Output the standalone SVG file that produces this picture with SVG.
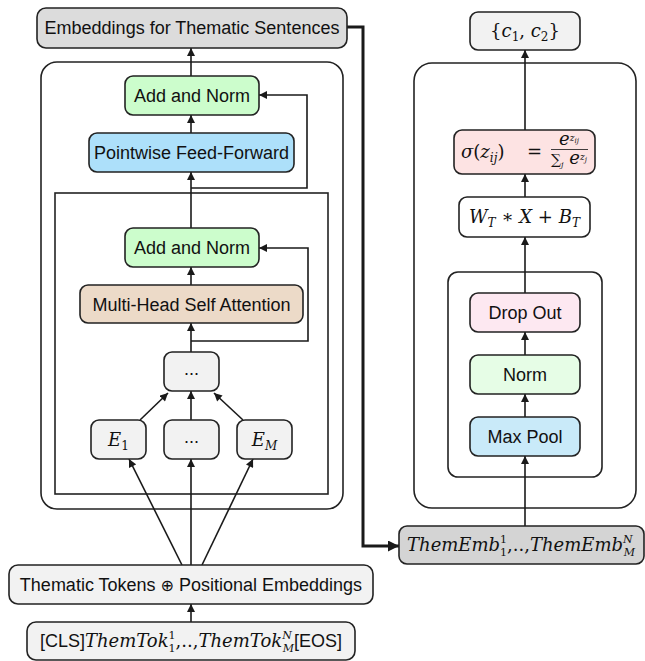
<svg xmlns="http://www.w3.org/2000/svg" width="645" height="661" viewBox="0 0 645 661">
<defs>
<marker id="ah" viewBox="0 0 10 10" refX="10" refY="5" markerUnits="userSpaceOnUse" markerWidth="9" markerHeight="8" orient="auto"><path d="M0,0 L10,5 L0,10 z" fill="#1a1a1a"/></marker>
<marker id="ahb" viewBox="0 0 10 10" refX="10" refY="5" markerUnits="userSpaceOnUse" markerWidth="13" markerHeight="11" orient="auto"><path d="M0,0 L10,5 L0,10 z" fill="#1a1a1a"/></marker>
<style>
.b{stroke:#222;stroke-width:1.6}
.c{fill:none;stroke:#1a1a1a;stroke-width:1.6}
.t{font-family:"Liberation Sans",Arial,sans-serif;font-size:18px;fill:#111}
.m{font-family:"DejaVu Serif","Liberation Serif",serif;font-style:italic;font-size:18px;fill:#111}
.r{font-family:"DejaVu Serif","Liberation Serif",serif;font-style:normal}
</style>
</defs>

<g id="containers" fill="none" stroke="#222" stroke-width="1.6">
<rect x="41" y="62" width="302" height="447" rx="16"/>
<rect x="55" y="193" width="273" height="301"/>
<rect x="414" y="63" width="222" height="445" rx="18"/>
<rect x="448" y="272" width="154" height="205" rx="10"/>
</g>

<g id="connectors">
<path class="c" d="M191,76 L191,48" marker-end="url(#ah)"/>
<path class="c" d="M191,133 L191,115" marker-end="url(#ah)"/>
<path class="c" d="M191,228 L191,172" marker-end="url(#ah)"/>
<path class="c" d="M191,188 L307,188 L307,95 L259,95" marker-end="url(#ah)"/>
<path class="c" d="M191,285 L191,267" marker-end="url(#ah)"/>
<path class="c" d="M191,352 L191,323" marker-end="url(#ah)"/>
<path class="c" d="M191,341 L308,341 L308,248 L259,248" marker-end="url(#ah)"/>
<path class="c" d="M140,420 L168,393" marker-end="url(#ah)"/>
<path class="c" d="M191,420 L191,391" marker-end="url(#ah)"/>
<path class="c" d="M243,420 L214,393" marker-end="url(#ah)"/>
<path class="c" d="M182,565 L129,459" marker-end="url(#ah)"/>
<path class="c" d="M191,565 L191,459" marker-end="url(#ah)"/>
<path class="c" d="M202,565 L253,459" marker-end="url(#ah)"/>
<path class="c" d="M191,622 L191,604" marker-end="url(#ah)"/>
<path fill="none" stroke="#1a1a1a" stroke-width="3" d="M347,27 L363,27 L363,546 L399,546" marker-end="url(#ahb)"/>
<path class="c" d="M525,526 L525,456" marker-end="url(#ah)"/>
<path class="c" d="M525,417 L525,394" marker-end="url(#ah)"/>
<path class="c" d="M525,355 L525,332" marker-end="url(#ah)"/>
<path class="c" d="M525,293 L525,237" marker-end="url(#ah)"/>
<path class="c" d="M525,197 L525,174" marker-end="url(#ah)"/>
<path class="c" d="M525,130 L525,50" marker-end="url(#ah)"/>
</g>

<g id="emb_sentences"><rect class="b" x="37" y="8" width="310" height="40" rx="9" fill="#dcdcdc"/><text class="t" x="192" y="34" text-anchor="middle">Embeddings for Thematic Sentences</text></g>
<g id="addnorm1"><rect class="b" x="125" y="76" width="134" height="39" rx="8" fill="#ccfdcc"/><text class="t" x="192" y="102" text-anchor="middle">Add and Norm</text></g>
<g id="ffn"><rect class="b" x="89" y="133" width="205" height="39" rx="8" fill="#ade0fa"/><text class="t" x="191.5" y="159" text-anchor="middle">Pointwise Feed-Forward</text></g>
<g id="addnorm2"><rect class="b" x="125" y="228" width="134" height="39" rx="8" fill="#ccfdcc"/><text class="t" x="192" y="254" text-anchor="middle">Add and Norm</text></g>
<g id="mhsa"><rect class="b" x="80" y="285" width="223" height="38" rx="8" fill="#ecdac8"/><text class="t" x="191.5" y="310.5" text-anchor="middle">Multi-Head Self Attention</text></g>
<g id="dots_top"><rect class="b" x="164" y="352" width="55" height="39" rx="8" fill="#f2f2f2"/><text class="t" x="191.5" y="375" text-anchor="middle">...</text></g>
<g id="e1"><rect class="b" x="91" y="420" width="55" height="39" rx="8" fill="#f2f2f2"/><text class="m" x="118.5" y="446" text-anchor="middle">E<tspan class="r" font-size="12" dy="4">1</tspan></text></g>
<g id="dots_mid"><rect class="b" x="164" y="420" width="55" height="39" rx="8" fill="#f2f2f2"/><text class="t" x="191.5" y="443" text-anchor="middle">...</text></g>
<g id="em"><rect class="b" x="237" y="420" width="55" height="39" rx="8" fill="#f2f2f2"/><text class="m" x="264.5" y="446" text-anchor="middle">E<tspan font-size="12" dy="4">M</tspan></text></g>
<g id="tokens"><rect class="b" x="9" y="565" width="364" height="39" rx="9" fill="#f2f2f2"/><text class="t" x="191" y="591" text-anchor="middle">Thematic Tokens <tspan font-family="DejaVu Sans,sans-serif" font-size="16">⊕</tspan> Positional Embeddings</text></g>
<g id="input"><rect class="b" x="27" y="622" width="328" height="38" rx="9" fill="#f2f2f2"/><text class="m" x="191" y="647" text-anchor="middle"><tspan class="t" font-style="normal">[CLS]</tspan>ThemTok<tspan class="r" font-size="11" dy="-8">1</tspan><tspan class="r" font-size="11" dx="-7" dy="13">1</tspan><tspan class="r" dy="-5">,..,</tspan>ThemTok<tspan font-size="11" dy="-8">N</tspan><tspan font-size="11" dx="-9" dy="13">M</tspan><tspan class="t" font-style="normal" dy="-5">[EOS]</tspan></text></g>

<g id="classes"><rect class="b" x="470" y="12" width="110" height="38" rx="8" fill="#f2f2f2"/><text class="m" x="525" y="37" text-anchor="middle"><tspan class="r">{</tspan>c<tspan class="r" font-size="12" dy="4">1</tspan><tspan class="r" dy="-4">, </tspan>c<tspan class="r" font-size="12" dy="4">2</tspan><tspan class="r" dy="-4">}</tspan></text></g>
<g id="softmax"><rect class="b" x="454" y="130" width="141" height="44" rx="8" fill="#fde3e3"/>
<text class="m" x="461" y="158">σ<tspan class="r">(</tspan>z<tspan font-size="12" dy="4">ij</tspan><tspan class="r" dy="-4">)</tspan></text>
<text class="r" x="527" y="158" font-size="18" fill="#111">=</text>
<text class="m" x="569" y="145" text-anchor="middle" font-size="12">e<tspan font-size="9" dy="-4">z</tspan><tspan font-size="7" dy="2">ij</tspan></text>
<line x1="551" y1="149.5" x2="588" y2="149.5" stroke="#111" stroke-width="0.8"/>
<text class="m" x="569" y="164" text-anchor="middle" font-size="12"><tspan class="r" font-size="14">∑</tspan><tspan font-size="8" dy="3">j</tspan><tspan dy="-3"> e</tspan><tspan font-size="9" dy="-4">z</tspan><tspan font-size="7" dy="2">j</tspan></text>
</g>
<g id="linear"><rect class="b" x="459" y="197" width="131" height="40" rx="8" fill="#ffffff"/><text class="m" x="524.5" y="223" text-anchor="middle">W<tspan font-size="12" dy="4">T</tspan><tspan class="r" dy="-4"> ∗ </tspan>X<tspan class="r"> + </tspan>B<tspan font-size="12" dy="4">T</tspan></text></g>
<g id="dropout"><rect class="b" x="470" y="293" width="110" height="39" rx="8" fill="#fde8f1"/><text class="t" x="525" y="319" text-anchor="middle">Drop Out</text></g>
<g id="norm"><rect class="b" x="470" y="355" width="110" height="39" rx="8" fill="#e6fde6"/><text class="t" x="525" y="381" text-anchor="middle">Norm</text></g>
<g id="maxpool"><rect class="b" x="470" y="417" width="110" height="39" rx="8" fill="#c9eaf9"/><text class="t" x="525" y="443" text-anchor="middle">Max Pool</text></g>
<g id="them_emb"><rect class="b" x="399" y="526" width="245" height="38" rx="8" fill="#d4d4d4"/><text class="m" x="521" y="551" text-anchor="middle">ThemEmb<tspan class="r" font-size="11" dy="-8">1</tspan><tspan class="r" font-size="11" dx="-7" dy="13">1</tspan><tspan class="r" dy="-5">,..,</tspan>ThemEmb<tspan font-size="11" dy="-8">N</tspan><tspan font-size="11" dx="-9" dy="13">M</tspan></text></g>
</svg>
